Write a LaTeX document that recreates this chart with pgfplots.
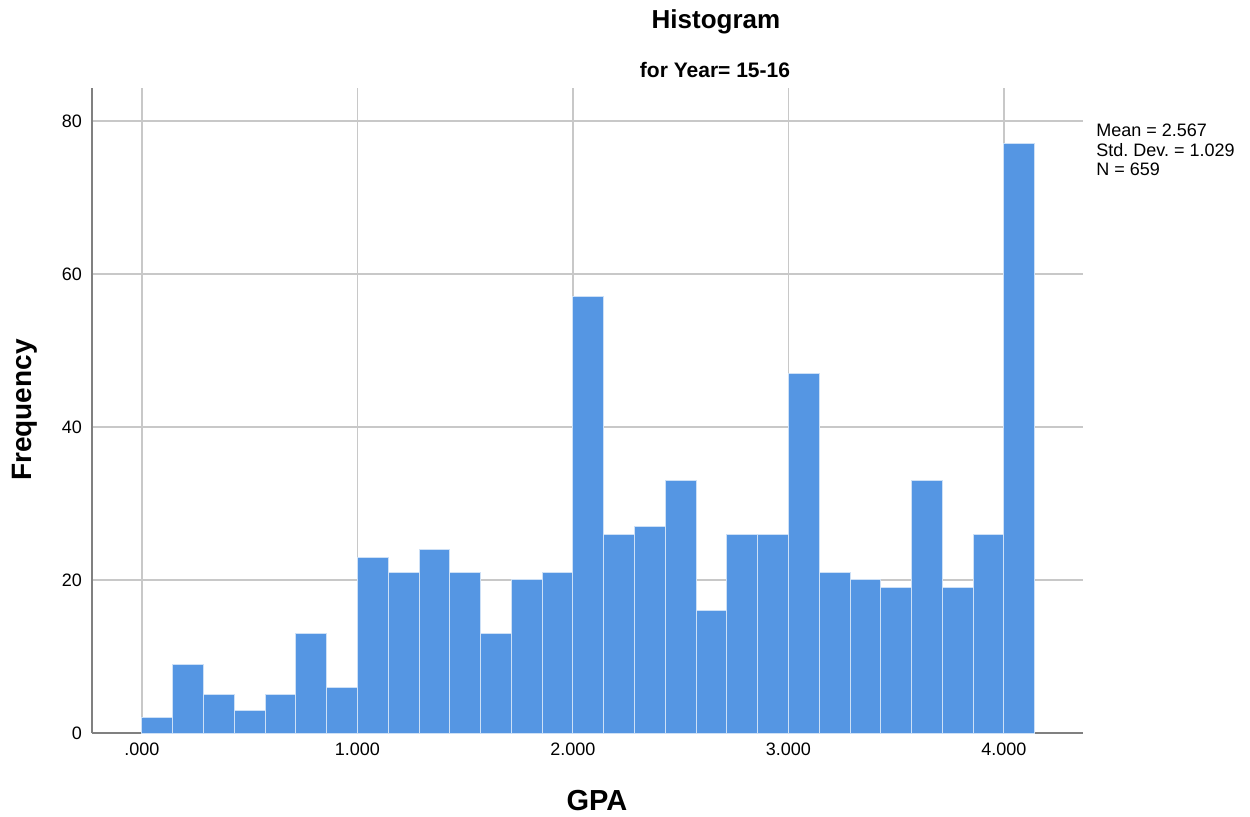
\documentclass[border=0pt]{standalone}
\usepackage{fontspec}
\setmainfont{Liberation Sans}
\usepackage{pgfplots}
\pgfplotsset{compat=1.18}
\frenchspacing
\definecolor{barblue}{RGB}{85,150,227}
\definecolor{baredge}{RGB}{205,224,246}
\definecolor{gridgray}{RGB}{200,200,200}
\definecolor{axisgray}{RGB}{128,128,128}
\begin{document}
\begin{tikzpicture}
\path[use as bounding box] (0,0) rectangle (625pt,-408pt);
\begin{axis}[
  at={(46pt,-366.5pt)}, anchor=south west,
  scale only axis, width=495.5pt, height=322.5pt,
  xmin=-0.232, xmax=4.367, ymin=0, ymax=84.3,
  axis x line=bottom, axis y line=left,
  axis line style={-, draw=axisgray, line width=1.1pt},
  xtick={0,1,2,3,4}, xticklabels={.000,1.000,2.000,3.000,4.000},
  ytick={0,20,40,60,80},
  major tick length=0pt,
  grid=major,
  major grid style={draw=gridgray, line width=0.9pt},
  /pgf/number format/assume math mode=true,
  tick label style={font=\fontsize{9}{10}\selectfont, text=black},
  x tick label style={yshift=-1.5pt},
  y tick label style={xshift=-1.5pt},
]
\addplot[ybar interval, fill=barblue, draw=baredge, line width=0.5pt] coordinates {
(0.000000,2) (0.142857,9) (0.285714,5) (0.428571,3) (0.571429,5) (0.714286,13) (0.857143,6)
(1.000000,23) (1.142857,21) (1.285714,24) (1.428571,21) (1.571429,13) (1.714286,20) (1.857143,21)
(2.000000,57) (2.142857,26) (2.285714,27) (2.428571,33) (2.571429,16) (2.714286,26) (2.857143,26)
(3.000000,47) (3.142857,21) (3.285714,20) (3.428571,19) (3.571429,33) (3.714286,19) (3.857143,26)
(4.000000,77) (4.142857,77)
};
\end{axis}
\node[font=\fontsize{13}{15}\selectfont\bfseries] at (358pt,-11pt) {Histogram};
\node[font=\fontsize{10.5}{12}\selectfont\bfseries] at (357.5pt,-35pt) {for Year= 15-16};
\node[font=\fontsize{14}{16}\selectfont\bfseries, rotate=90] at (12.5pt,-205pt) {Frequency};
\node[font=\fontsize{14.5}{16}\selectfont\bfseries] at (298.5pt,-400.5pt) {GPA};
\node[font=\fontsize{9}{9.6}\selectfont, anchor=north west, align=left, inner sep=0pt] at (548pt,-62pt) {Mean = 2.567\\Std. Dev. = 1.029\\N = 659};
\end{tikzpicture}
\end{document}
